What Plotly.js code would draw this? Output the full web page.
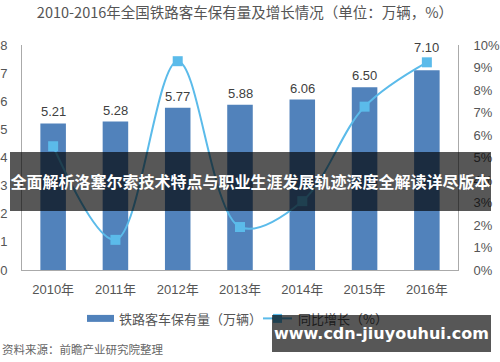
<!DOCTYPE html>
<html><head><meta charset="utf-8">
<script src="https://cdn.plot.ly/plotly-3.0.1.min.js"></script>
<style>
html,body{margin:0;padding:0;background:#fff;}
#chart{width:500px;height:362px;position:relative;}
.ovl{position:absolute;background:rgba(0,0,0,0.66);color:#fff;font-weight:bold;text-align:center;white-space:nowrap;}
</style></head>
<body>
<div id="chart"></div>
<div class="ovl" style="left:10px;top:152px;width:481px;height:59px;line-height:59px;font-family:'Noto Sans CJK SC';font-size:16px;">全面解析洛塞尔索技术特点与职业生涯发展轨迹深度全解读详尽版本</div>
<div class="ovl" style="left:272px;top:315px;width:219px;height:37px;line-height:37px;font-family:'DejaVu Sans';font-size:16px;">www.cdn-jiuyouhui.com</div>
<script>
var categories = ['2010年','2011年','2012年','2013年','2014年','2015年','2016年'];
var stock = [5.21, 5.28, 5.77, 5.88, 6.06, 6.50, 7.10];
var growth = [5.5, 1.34, 9.28, 1.91, 3.06, 7.26, 9.23];
var leftTicks = [0,1,2,3,4,5,6,7,8];
var rightTicks = [0,1,2,3,4,5,6,7,8,9,10];
var rightTickText = ['0%','1%','2%','3%','4%','5%','6%','7%','8%','9%','10%'];
var titleText = '2010-2016年全国铁路客车保有量及增长情况（单位：万辆，%）';
var legendBar = '铁路客车保有量（万辆）';
var legendLine = '同比增长（%）';
var sourceText = '资料来源：前瞻产业研究院整理';

var barColor = '#5182bb', lineColor = '#5bbbea';
var fontFam = '"Liberation Sans","Noto Sans CJK SC",sans-serif';
var L = 22, R = 458, T = 44.5, B = 270;
function px(x){return (x-L)/(R-L);}
function py(y){return (B-y)/(B-T);}

var traces = [
  {type:'bar', x:categories, y:stock, marker:{color:barColor}, width:0.41, hoverinfo:'none'},
  {type:'scatter', mode:'lines+markers', x:categories, y:growth, yaxis:'y2',
   line:{color:lineColor, width:2, shape:'spline', smoothing:1},
   marker:{symbol:'square', size:10, color:lineColor}, cliponaxis:false, hoverinfo:'none'}
];

var annotations = [];
stock.forEach(function(v, i){
  // lift the label when the growth marker sits just above the bar top
  var markerPxAboveBar = (growth[i]/10 - v/8) * (B - T);
  var lift = (markerPxAboveBar > 0 && markerPxAboveBar < 25) ? 11 : 0;
  annotations.push({x:categories[i], y:v, xref:'x', yref:'y', text:v.toFixed(2), showarrow:false,
    yanchor:'bottom', yshift:2 + lift, font:{size:13, color:'#404040', family:fontFam}});
});
annotations.push(
  {text:legendBar, xref:'paper', yref:'paper', x:px(117), y:py(319), xanchor:'left', yanchor:'middle',
   showarrow:false, font:{size:13, color:'#555', family:'"Noto Sans CJK SC",sans-serif'}},
  {text:legendLine, xref:'paper', yref:'paper', x:px(296), y:py(319), xanchor:'left', yanchor:'middle',
   showarrow:false, font:{size:13, color:'#555', family:'"Noto Sans CJK SC",sans-serif'}},
  {text:sourceText, xref:'paper', yref:'paper', x:px(0), y:py(349), xanchor:'left', yanchor:'middle',
   showarrow:false, font:{size:11.5, color:'#666', family:'"Noto Sans CJK SC",sans-serif'}}
);

var layout = {
  width:500, height:362,
  margin:{l:L, r:500-R, t:T, b:362-B},
  paper_bgcolor:'#fff', plot_bgcolor:'#fff',
  showlegend:false,
  font:{family:fontFam, color:'#555'},
  title:{text:titleText, x:0.49, xanchor:'center', y:0.963, yanchor:'middle',
         font:{size:14.5, color:'#555', family:'"Noto Sans CJK SC",sans-serif'}},
  xaxis:{type:'category', range:[-0.5,6.5], showline:true, linecolor:'#aaa', linewidth:1,
         showgrid:false, ticks:'', tickfont:{size:13,color:'#555'}, ticklabelstandoff:7, fixedrange:true},
  yaxis:{range:[0,8], tickvals:leftTicks, showgrid:false, zeroline:false, showline:true,
         linecolor:'#aaa', linewidth:1, ticks:'', tickfont:{size:13,color:'#555'}, ticklabelstandoff:11},
  yaxis2:{range:[0,10], overlaying:'y', side:'right', tickvals:rightTicks, ticktext:rightTickText,
          showgrid:false, zeroline:false, showline:true, linecolor:'#aaa', linewidth:1, ticks:'',
          tickfont:{size:13,color:'#555'}, ticklabelstandoff:12},
  shapes:[
    {type:'rect', xref:'paper', yref:'paper', x0:px(87), x1:px(114), y0:py(322), y1:py(315),
     fillcolor:barColor, line:{width:0}},
    {type:'line', xref:'paper', yref:'paper', x0:px(263), x1:px(292), y0:py(318.5), y1:py(318.5),
     line:{color:lineColor, width:2}},
    {type:'rect', xref:'paper', yref:'paper', x0:px(273), x1:px(282), y0:py(323), y1:py(314),
     fillcolor:lineColor, line:{width:0}}
  ],
  annotations:annotations
};
Plotly.newPlot('chart', traces, layout, {displayModeBar:false, staticPlot:true});
</script>
</body></html>
